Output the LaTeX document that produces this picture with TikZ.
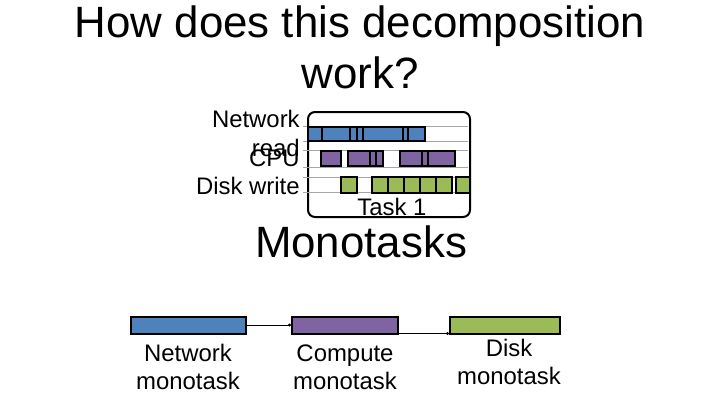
\documentclass[tikz,border=0pt]{standalone}
\usepackage{fontspec}
\setmainfont{Liberation Sans}
\usetikzlibrary{positioning, arrows.meta}

\definecolor{netblue}{RGB}{79,129,189}
\definecolor{cpupurple}{RGB}{128,100,162}
\definecolor{diskgreen}{RGB}{155,187,89}

\begin{document}
\begin{tikzpicture}[x=1bp, y=-1bp, semithick,
    big/.style={font=\fontsize{44}{51}\selectfont, inner sep=0pt, align=center},
    lbl/.style={font=\fontsize{24}{28}\selectfont, inner sep=0pt, align=center},
    bar/.style={draw=black, line width=2bp},
    grid/.style={draw=gray!70, line width=0.6bp},
    link/.style={draw=black, line width=1bp, -{Circle[length=3bp]}}]
  \useasboundingbox (0,0) rectangle (720,405);

  % Title (base = last line)
  \node[big, anchor=base] (title) at (360,88) {How does this decomposition\\work?};

  % Task 1 timeline
  \node[draw=black, line width=2bp, rounded corners=7bp, minimum width=162bp,
        minimum height=105bp, anchor=north west, inner sep=0pt] (task) at (307,111) {};
  \foreach \y in {126,141,150,167,177,192}
    \draw[grid] (303,\y) -- (468,\y);
  \foreach \a/\b in {308/322,322/350,350/357,357/363,363/403,403/408,408/425}
    \draw[bar, line width=1.5bp, fill=netblue] (\a,127) rectangle (\b,141);
  \foreach \a/\b in {321/341,348/370,370/376,376/383,400/422,422/428,428/455}
    \draw[bar, line width=1.5bp, fill=cpupurple] (\a,151) rectangle (\b,166);
  \foreach \a/\b in {341/357,372/388,388/404,404/420,420/436,436/452,456/470}
    \draw[bar, line width=1.5bp, fill=diskgreen] (\a,177) rectangle (\b,193);
  \node[lbl, anchor=base] (tasklbl) at (392,215) {Task 1};

  % resource labels
  \node[lbl, anchor=base east] (netlbl) at (300,127) {Network};
  \node[lbl, anchor=base east] (readlbl) at (300,156) {read};
  \node[lbl, anchor=base east] (cpulbl) at (300,166) {CPU};
  \node[lbl, anchor=base east] (disklbl) at (300,194) {Disk write};

  \node[big, anchor=base] (mono) at (361,257) {Monotasks};

  % Monotasks
  \node[bar, fill=netblue, minimum width=115bp, minimum height=17bp, inner sep=0pt] (netmt) at (188,325) {};
  \node[bar, fill=cpupurple, minimum width=106bp, minimum height=17bp, inner sep=0pt] (cpumt) at (345,325) {};
  \node[bar, fill=diskgreen, minimum width=110bp, minimum height=17bp, inner sep=0pt] (diskmt) at (505,325) {};

  \draw[link] (netmt.east) -- (cpumt.west);
  \draw[link] (cpumt.south east) ++(0,-1) coordinate (c1) (c1) -- (c1 -| diskmt.west);

  \node[lbl, anchor=base] (netmtlbl) at (188,389) {Network\\monotask};
  \node[lbl, anchor=base] (cpumtlbl) at (345,389) {Compute\\monotask};
  \node[lbl, anchor=base] (diskmtlbl) at (509,384) {Disk\\monotask};
\end{tikzpicture}
\end{document}
